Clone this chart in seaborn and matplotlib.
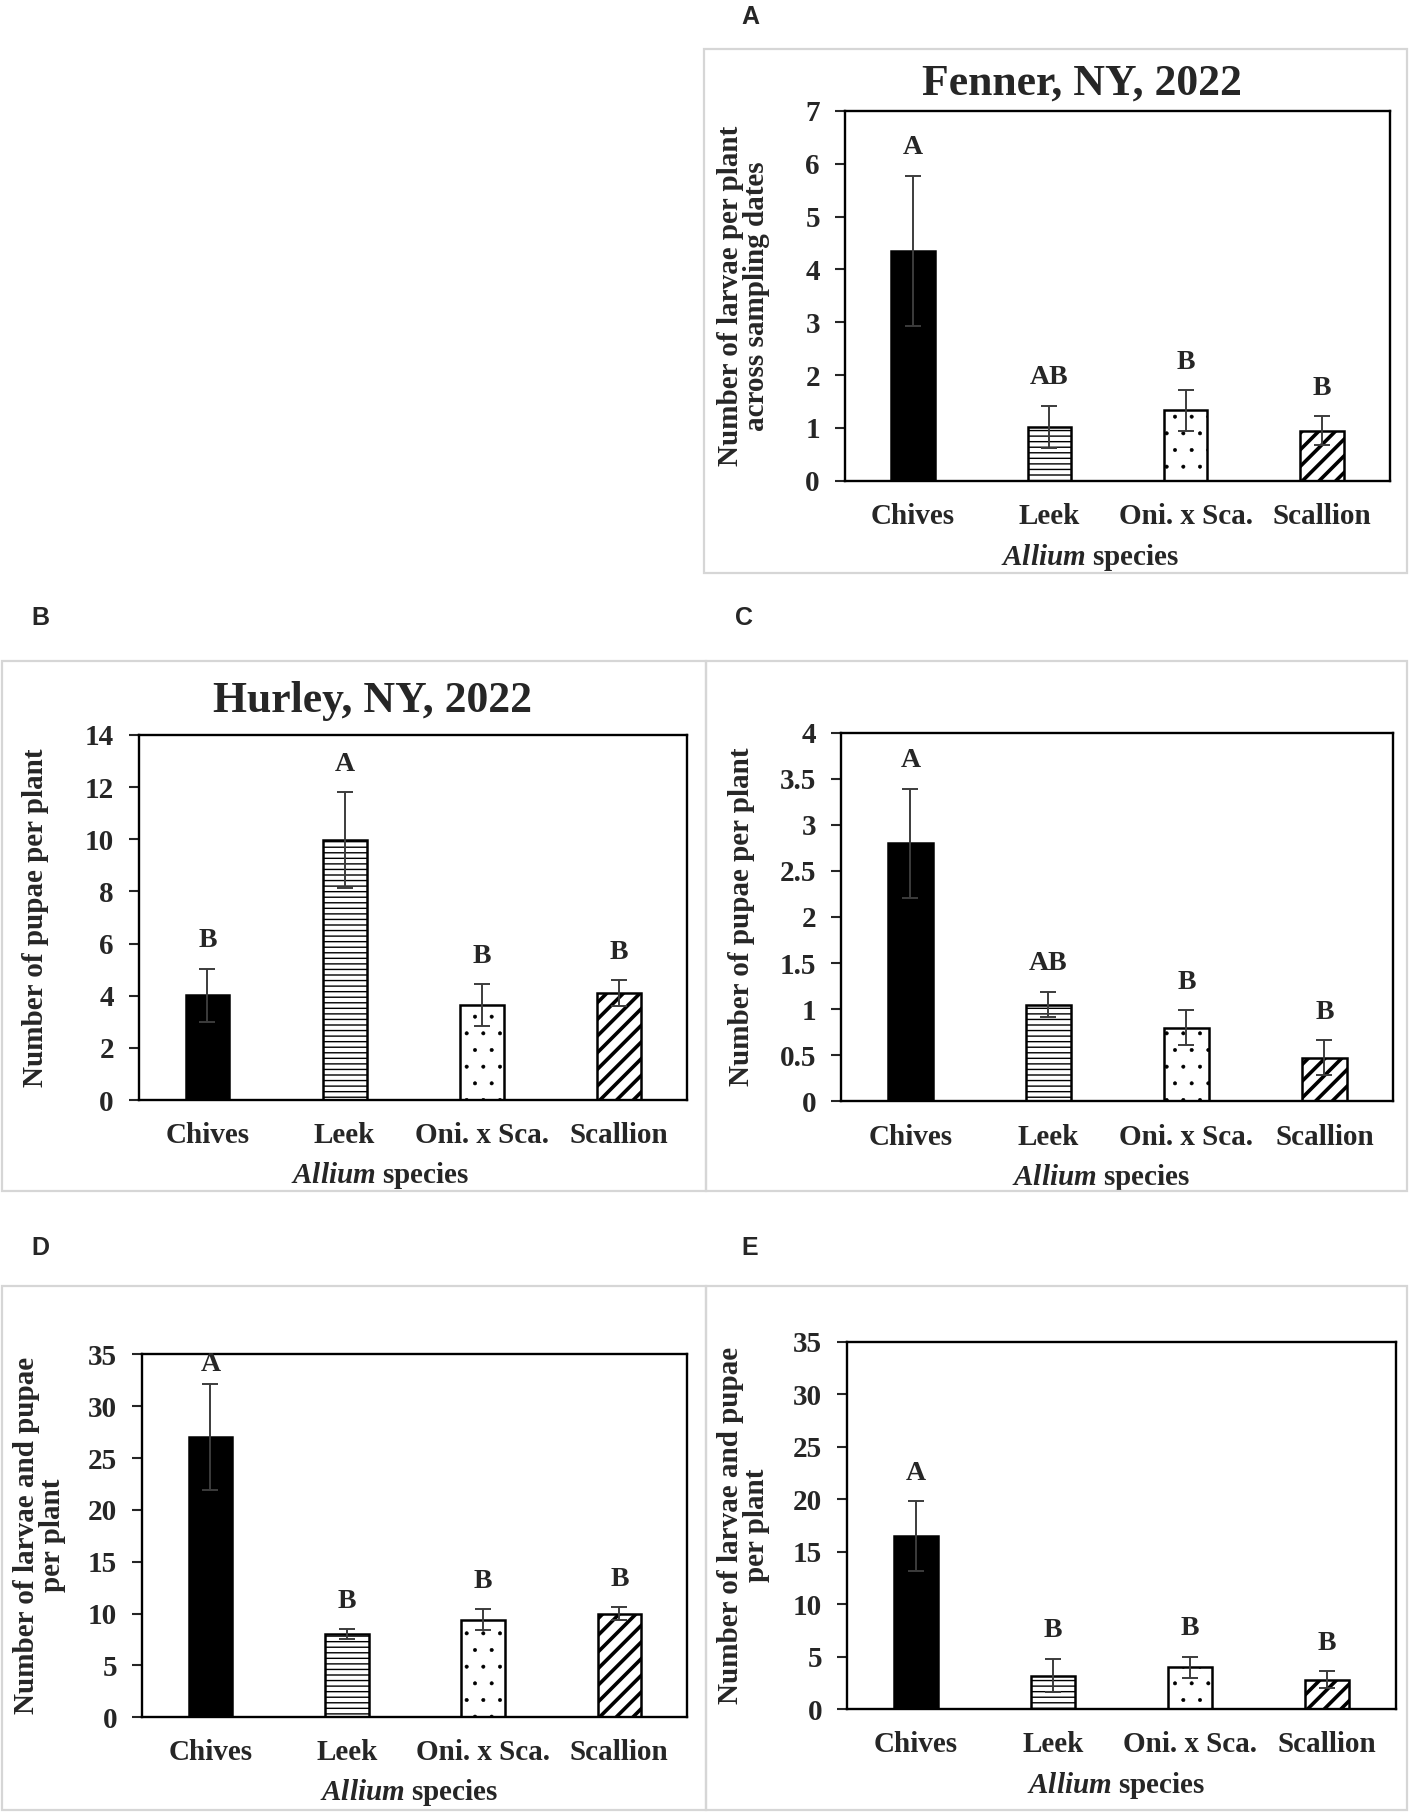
import numpy as np
import pandas as pd
import matplotlib.pyplot as plt
import seaborn as sns
from matplotlib.patches import Rectangle
from matplotlib.ticker import FuncFormatter, MultipleLocator

# ---------------- data ----------------
species = ["Chives", "Leek", "Oni. x Sca.", "Scallion"]

# A: Fenner, NY, 2022 - larvae per plant across sampling dates
fenner_larvae = [4.35, 1.02, 1.33, 0.95]
fenner_larvae_err = [1.42, 0.40, 0.38, 0.27]
fenner_larvae_grp = ["A", "AB", "B", "B"]

# B: Hurley, NY, 2022 - pupae per plant
hurley_pupae = [4.02, 9.97, 3.65, 4.10]
hurley_pupae_err = [1.02, 1.85, 0.80, 0.50]
hurley_pupae_grp = ["B", "A", "B", "B"]

# C: pupae per plant
fenner_pupae = [2.80, 1.05, 0.80, 0.47]
fenner_pupae_err = [0.59, 0.14, 0.19, 0.19]
fenner_pupae_grp = ["A", "AB", "B", "B"]

# D: larvae and pupae per plant
hurley_total = [27.0, 8.0, 9.4, 10.0]
hurley_total_err = [5.1, 0.5, 1.0, 0.65]
hurley_total_grp = ["A", "B", "B", "B"]

# E: larvae and pupae per plant
fenner_total = [16.5, 3.2, 4.0, 2.8]
fenner_total_err = [3.3, 1.6, 1.0, 0.8]
fenner_total_grp = ["A", "B", "B", "B"]

# ---------------- style ----------------
sns.set_theme(style="white")
plt.rcParams["font.family"] = ["Liberation Serif", "DejaVu Serif"]
plt.rcParams["font.weight"] = "bold"
plt.rcParams["axes.labelweight"] = "bold"
plt.rcParams["mathtext.fontset"] = "custom"
plt.rcParams["mathtext.it"] = "Liberation Serif:italic:bold"
plt.rcParams["mathtext.rm"] = "Liberation Serif:bold"
plt.rcParams["hatch.linewidth"] = 1.0

W, H = 1220.0, 1568.0  # layout measured on a 1220x1568 grid


def rect(l, t, r, b):
    return [l / W, 1 - b / H, (r - l) / W, (b - t) / H]


fig = plt.figure(figsize=(14.12, 18.12), dpi=100)

# light grey frames around every panel
for l, t, r, b in [(608, 42, 1216, 496), (2, 572, 610, 1031), (610, 572, 1216, 1031),
                   (2, 1113, 610, 1566), (610, 1113, 1216, 1566)]:
    fig.add_artist(Rectangle((l / W, 1 - b / H), (r - l) / W, (b - t) / H,
                             transform=fig.transFigure, fill=False,
                             edgecolor="#d6d6d6", linewidth=1.6))

panels = [
    # letter, values, errors, groups, ylabel, ymax, step, axes rect, letter pos, ylabel x, xlabel x
    ("A", fenner_larvae, fenner_larvae_err, fenner_larvae_grp,
     "Number of larvae per plant\nacross sampling dates", 7, 1,
     (730, 96, 1201, 416), (648, 15), -0.138, 0.45),
    ("B", hurley_pupae, hurley_pupae_err, hurley_pupae_grp,
     "Number of pupae per plant", 14, 2,
     (120, 636, 594, 952), (35, 535), -0.164, 0.44),
    ("C", fenner_pupae, fenner_pupae_err, fenner_pupae_grp,
     "Number of pupae per plant", 4, 0.5,
     (727, 634, 1204, 953), (643, 535), -0.157, 0.47),
    ("D", hurley_total, hurley_total_err, hurley_total_grp,
     "Number of larvae and pupae\nper plant", 35, 5,
     (123, 1172, 594, 1486), (35, 1080), -0.14, 0.49),
    ("E", fenner_total, fenner_total_err, fenner_total_grp,
     "Number of larvae and pupae\nper plant", 35, 5,
     (732, 1161, 1206, 1479), (648, 1080), -0.141, 0.49),
]

hatches = [None, "---", ".", "//"]

for letter, vals, errs, grps, ylab, ymax, step, box, lpos, ylx, xlx in panels:
    ax = fig.add_axes(rect(*box))
    df = pd.DataFrame({"species": species, "value": vals})
    sns.barplot(data=df, x="species", y="value", ax=ax, color="white",
                edgecolor="black", linewidth=1.8, width=0.32, errorbar=None)
    for i, p in enumerate(ax.patches):
        if i == 0:
            p.set_facecolor("black")
        else:
            p.set_facecolor("white")
            p.set_hatch(hatches[i])
            if hasattr(p, "set_hatch_linewidth"):
                p.set_hatch_linewidth({1: 1.0, 2: 0.4, 3: 2.6}[i])
    ax.errorbar(np.arange(len(species)), vals, yerr=errs, fmt="none",
                ecolor="#3c3c3c", elinewidth=1.4, capsize=5.5, capthick=1.4, zorder=5)
    for i, g in enumerate(grps):
        ly = min(vals[i] + errs[i] + 0.076 * ymax, 0.972 * ymax)
        ax.text(i, ly, g, ha="center", va="center", fontsize=20, fontweight="bold")

    ax.set_xlim(-0.5, len(species) - 0.5)
    ax.set_ylim(0, ymax)
    ax.yaxis.set_major_locator(MultipleLocator(step))
    ax.yaxis.set_major_formatter(FuncFormatter(lambda v, _: f"{v:g}"))
    for s in ax.spines.values():
        s.set_visible(True)
        s.set_color("black")
        s.set_linewidth(1.7)
    ax.tick_params(axis="y", direction="out", length=7, width=1.5, labelsize=21, pad=11, left=True)
    ax.tick_params(axis="x", length=0, labelsize=21, pad=16)
    ax.set_ylabel(ylab, fontsize=21, fontweight="bold", linespacing=0.95)
    ax.yaxis.set_label_coords(ylx, 0.5)
    ax.set_xlabel(r"$\mathit{Allium}$ species", fontsize=21, fontweight="bold")
    ax.xaxis.set_label_coords(xlx, -0.165)

    fig.text(lpos[0] / W, 1 - lpos[1] / H, letter, ha="center", va="center",
             fontsize=18, fontweight="bold", family=["Liberation Sans", "DejaVu Sans"])

fig.text(935 / W, 1 - 72 / H, "Fenner, NY, 2022", ha="center", va="center",
         fontsize=31.5, fontweight="bold")
fig.text(322 / W, 1 - 607 / H, "Hurley, NY, 2022", ha="center", va="center",
         fontsize=31.5, fontweight="bold")

fig.savefig("out.png", dpi=100, facecolor="white")
